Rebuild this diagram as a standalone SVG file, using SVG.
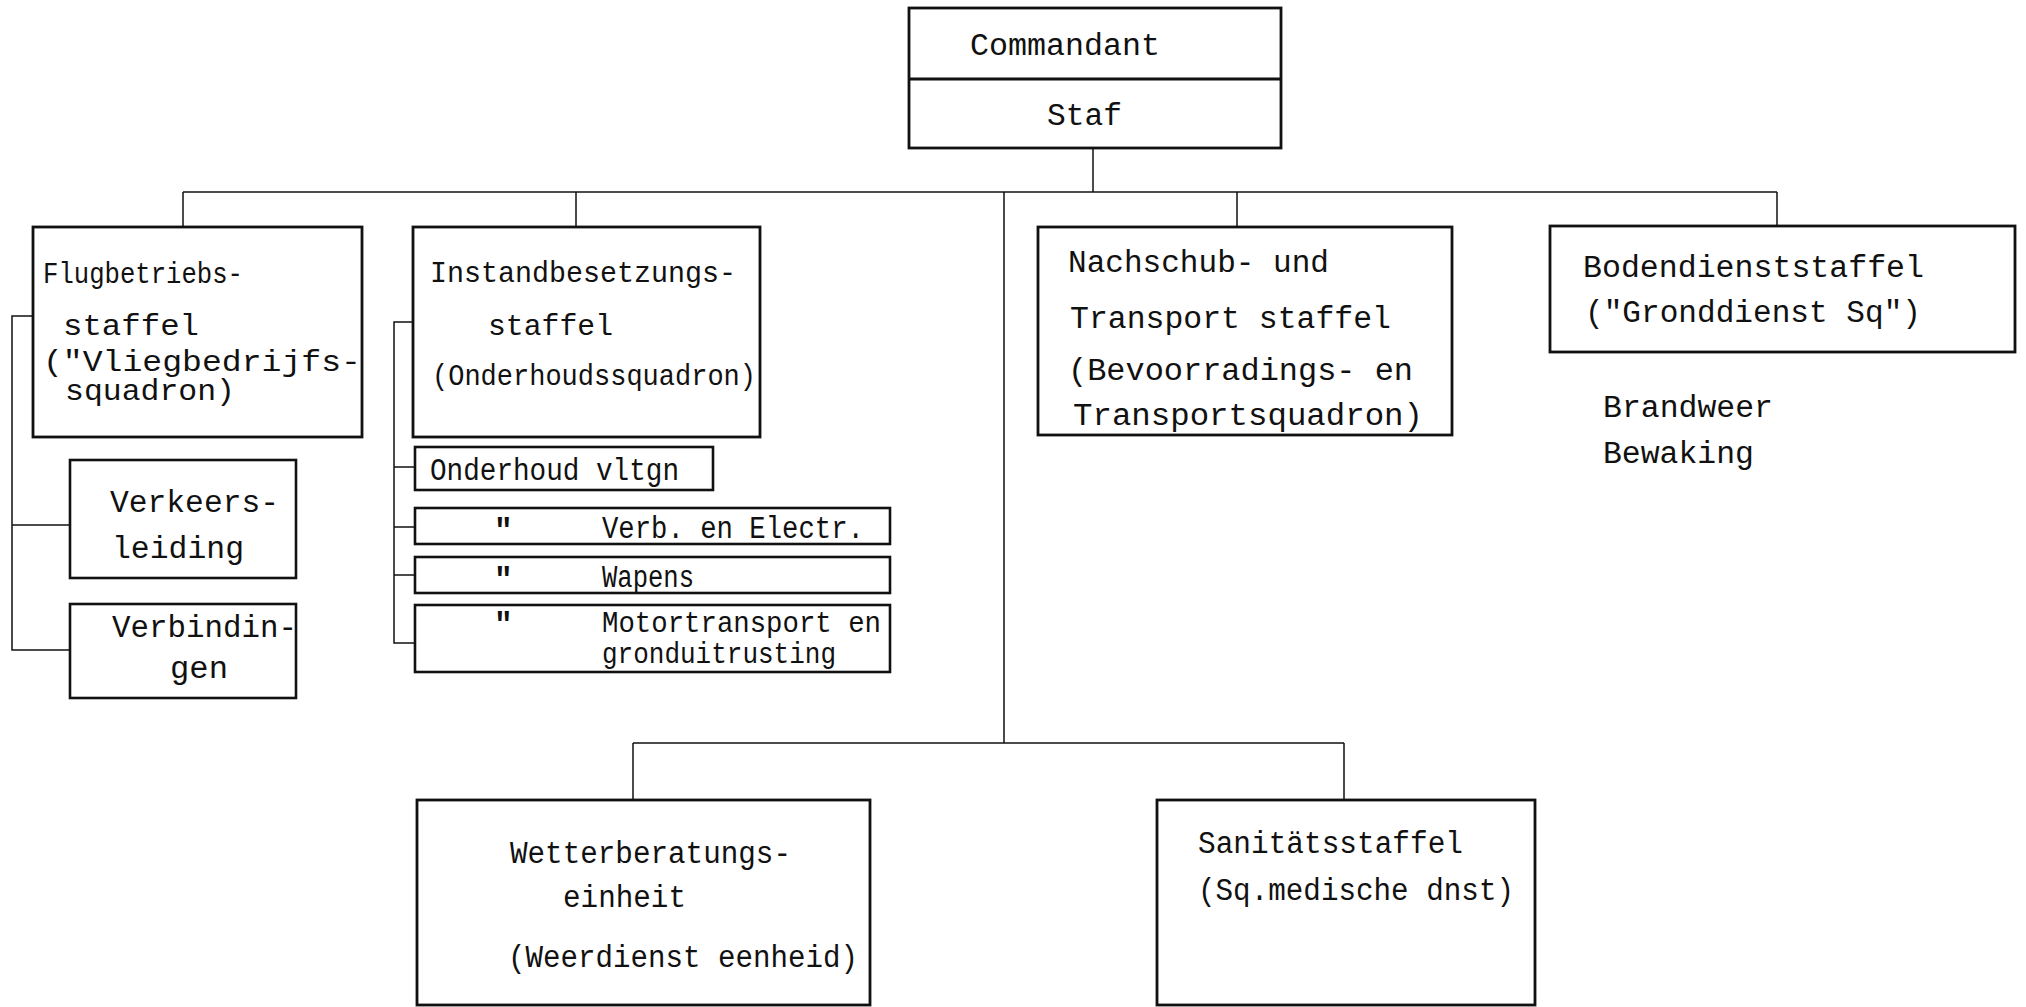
<svg xmlns="http://www.w3.org/2000/svg" width="2026" height="1007" viewBox="0 0 2026 1007">
<style>
.box{fill:none;stroke:#111;stroke-width:2.8}
.sub{fill:none;stroke:#111;stroke-width:2.6}
.ln{fill:none;stroke:#111;stroke-width:1.5}
text{font-family:"Liberation Mono","DejaVu Sans Mono",monospace;font-size:31px;fill:#111}
.s{font-size:29px}
.q{font-size:31px;font-weight:bold}
</style>
<rect width="2026" height="1007" fill="#fff"/>
<g id="connectors">
<path class="ln" d="M1093 148V192"/>
<path class="ln" d="M183 192H1777"/>
<path class="ln" d="M183 192V227M576 192V227M1237 192V227M1777 192V226"/>
<path class="ln" d="M1004 192V743M633 743H1344M633 743V800M1344 743V800"/>
<path class="ln" d="M33 316H12V650H70M12 525H70"/>
<path class="ln" d="M413 322H394V643H415M394 467H415M394 527H415M394 575H415"/>
</g>
<g id="commandant">
<rect class="box" x="909" y="8" width="372" height="140"/>
<line class="box" x1="909" y1="79" x2="1281" y2="79"/>
<text x="970" y="55" textLength="190" lengthAdjust="spacingAndGlyphs">Commandant</text>
<text x="1047" y="125" textLength="75" lengthAdjust="spacingAndGlyphs">Staf</text>
</g>
<g id="flugbetriebsstaffel">
<rect class="box" x="33" y="227" width="329" height="210"/>
<text class="s" x="43" y="283" textLength="200" lengthAdjust="spacingAndGlyphs">Flugbetriebs-</text>
<text class="s" x="63" y="335" textLength="136" lengthAdjust="spacingAndGlyphs">staffel</text>
<text class="s" x="43" y="371" textLength="318" lengthAdjust="spacingAndGlyphs">("Vliegbedrijfs-</text>
<text class="s" x="65" y="400" textLength="170" lengthAdjust="spacingAndGlyphs">squadron)</text>
</g>
<g id="verkeersleiding">
<rect class="sub" x="70" y="460" width="226" height="118"/>
<text x="110" y="512" textLength="169" lengthAdjust="spacingAndGlyphs">Verkeers-</text>
<text x="112" y="558" textLength="132" lengthAdjust="spacingAndGlyphs">leiding</text>
</g>
<g id="verbindingen">
<rect class="sub" x="70" y="604" width="226" height="94"/>
<text x="112" y="637" textLength="185" lengthAdjust="spacingAndGlyphs">Verbindin-</text>
<text x="170" y="678" textLength="58" lengthAdjust="spacingAndGlyphs">gen</text>
</g>
<g id="instandbesetzungsstaffel">
<rect class="box" x="413" y="227" width="347" height="210"/>
<text class="s" x="430" y="282" textLength="306" lengthAdjust="spacingAndGlyphs">Instandbesetzungs-</text>
<text class="s" x="488" y="335" textLength="125" lengthAdjust="spacingAndGlyphs">staffel</text>
<text class="s" x="432" y="385" textLength="324" lengthAdjust="spacingAndGlyphs">(Onderhoudssquadron)</text>
</g>
<g id="onderhoud-vltgn">
<rect class="sub" x="415" y="447" width="298" height="43"/>
<text x="430" y="480" textLength="249" lengthAdjust="spacingAndGlyphs">Onderhoud vltgn</text>
</g>
<g id="verb-electr">
<rect class="sub" x="415" y="508" width="475" height="36"/>
<text class="q" x="494" y="540">"</text>
<text x="602" y="538" textLength="262" lengthAdjust="spacingAndGlyphs">Verb. en Electr.</text>
</g>
<g id="wapens">
<rect class="sub" x="415" y="557" width="475" height="36"/>
<text class="q" x="494" y="589">"</text>
<text x="602" y="587" textLength="92" lengthAdjust="spacingAndGlyphs">Wapens</text>
</g>
<g id="motortransport">
<rect class="sub" x="415" y="605" width="475" height="67"/>
<text class="q" x="494" y="634">"</text>
<text class="s" x="602" y="632" textLength="279" lengthAdjust="spacingAndGlyphs">Motortransport en</text>
<text class="s" x="602" y="663" textLength="234" lengthAdjust="spacingAndGlyphs">gronduitrusting</text>
</g>
<g id="nachschub">
<rect class="box" x="1038" y="227" width="414" height="208"/>
<text x="1068" y="272" textLength="261" lengthAdjust="spacingAndGlyphs">Nachschub- und</text>
<text x="1070" y="328" textLength="321" lengthAdjust="spacingAndGlyphs">Transport staffel</text>
<text x="1068" y="380" textLength="345" lengthAdjust="spacingAndGlyphs">(Bevoorradings- en</text>
<text x="1073" y="425" textLength="350" lengthAdjust="spacingAndGlyphs">Transportsquadron)</text>
</g>
<g id="bodendienststaffel">
<rect class="box" x="1550" y="226" width="465" height="126"/>
<text x="1583" y="277" textLength="341" lengthAdjust="spacingAndGlyphs">Bodendienststaffel</text>
<text x="1585" y="322" textLength="336" lengthAdjust="spacingAndGlyphs">("Gronddienst Sq")</text>
</g>
<g id="brandweer-bewaking">
<text x="1603" y="417" textLength="170" lengthAdjust="spacingAndGlyphs">Brandweer</text>
<text x="1603" y="463" textLength="151" lengthAdjust="spacingAndGlyphs">Bewaking</text>
</g>
<g id="wetterberatungseinheit">
<rect class="box" x="417" y="800" width="453" height="205"/>
<text x="510" y="863" textLength="281" lengthAdjust="spacingAndGlyphs">Wetterberatungs-</text>
<text x="563" y="907" textLength="123" lengthAdjust="spacingAndGlyphs">einheit</text>
<text x="508" y="967" textLength="350" lengthAdjust="spacingAndGlyphs">(Weerdienst eenheid)</text>
</g>
<g id="sanitaetsstaffel">
<rect class="box" x="1157" y="800" width="378" height="205"/>
<text x="1198" y="853" textLength="265" lengthAdjust="spacingAndGlyphs">Sanitätsstaffel</text>
<text x="1198" y="900" textLength="316" lengthAdjust="spacingAndGlyphs">(Sq.medische dnst)</text>
</g>
</svg>
